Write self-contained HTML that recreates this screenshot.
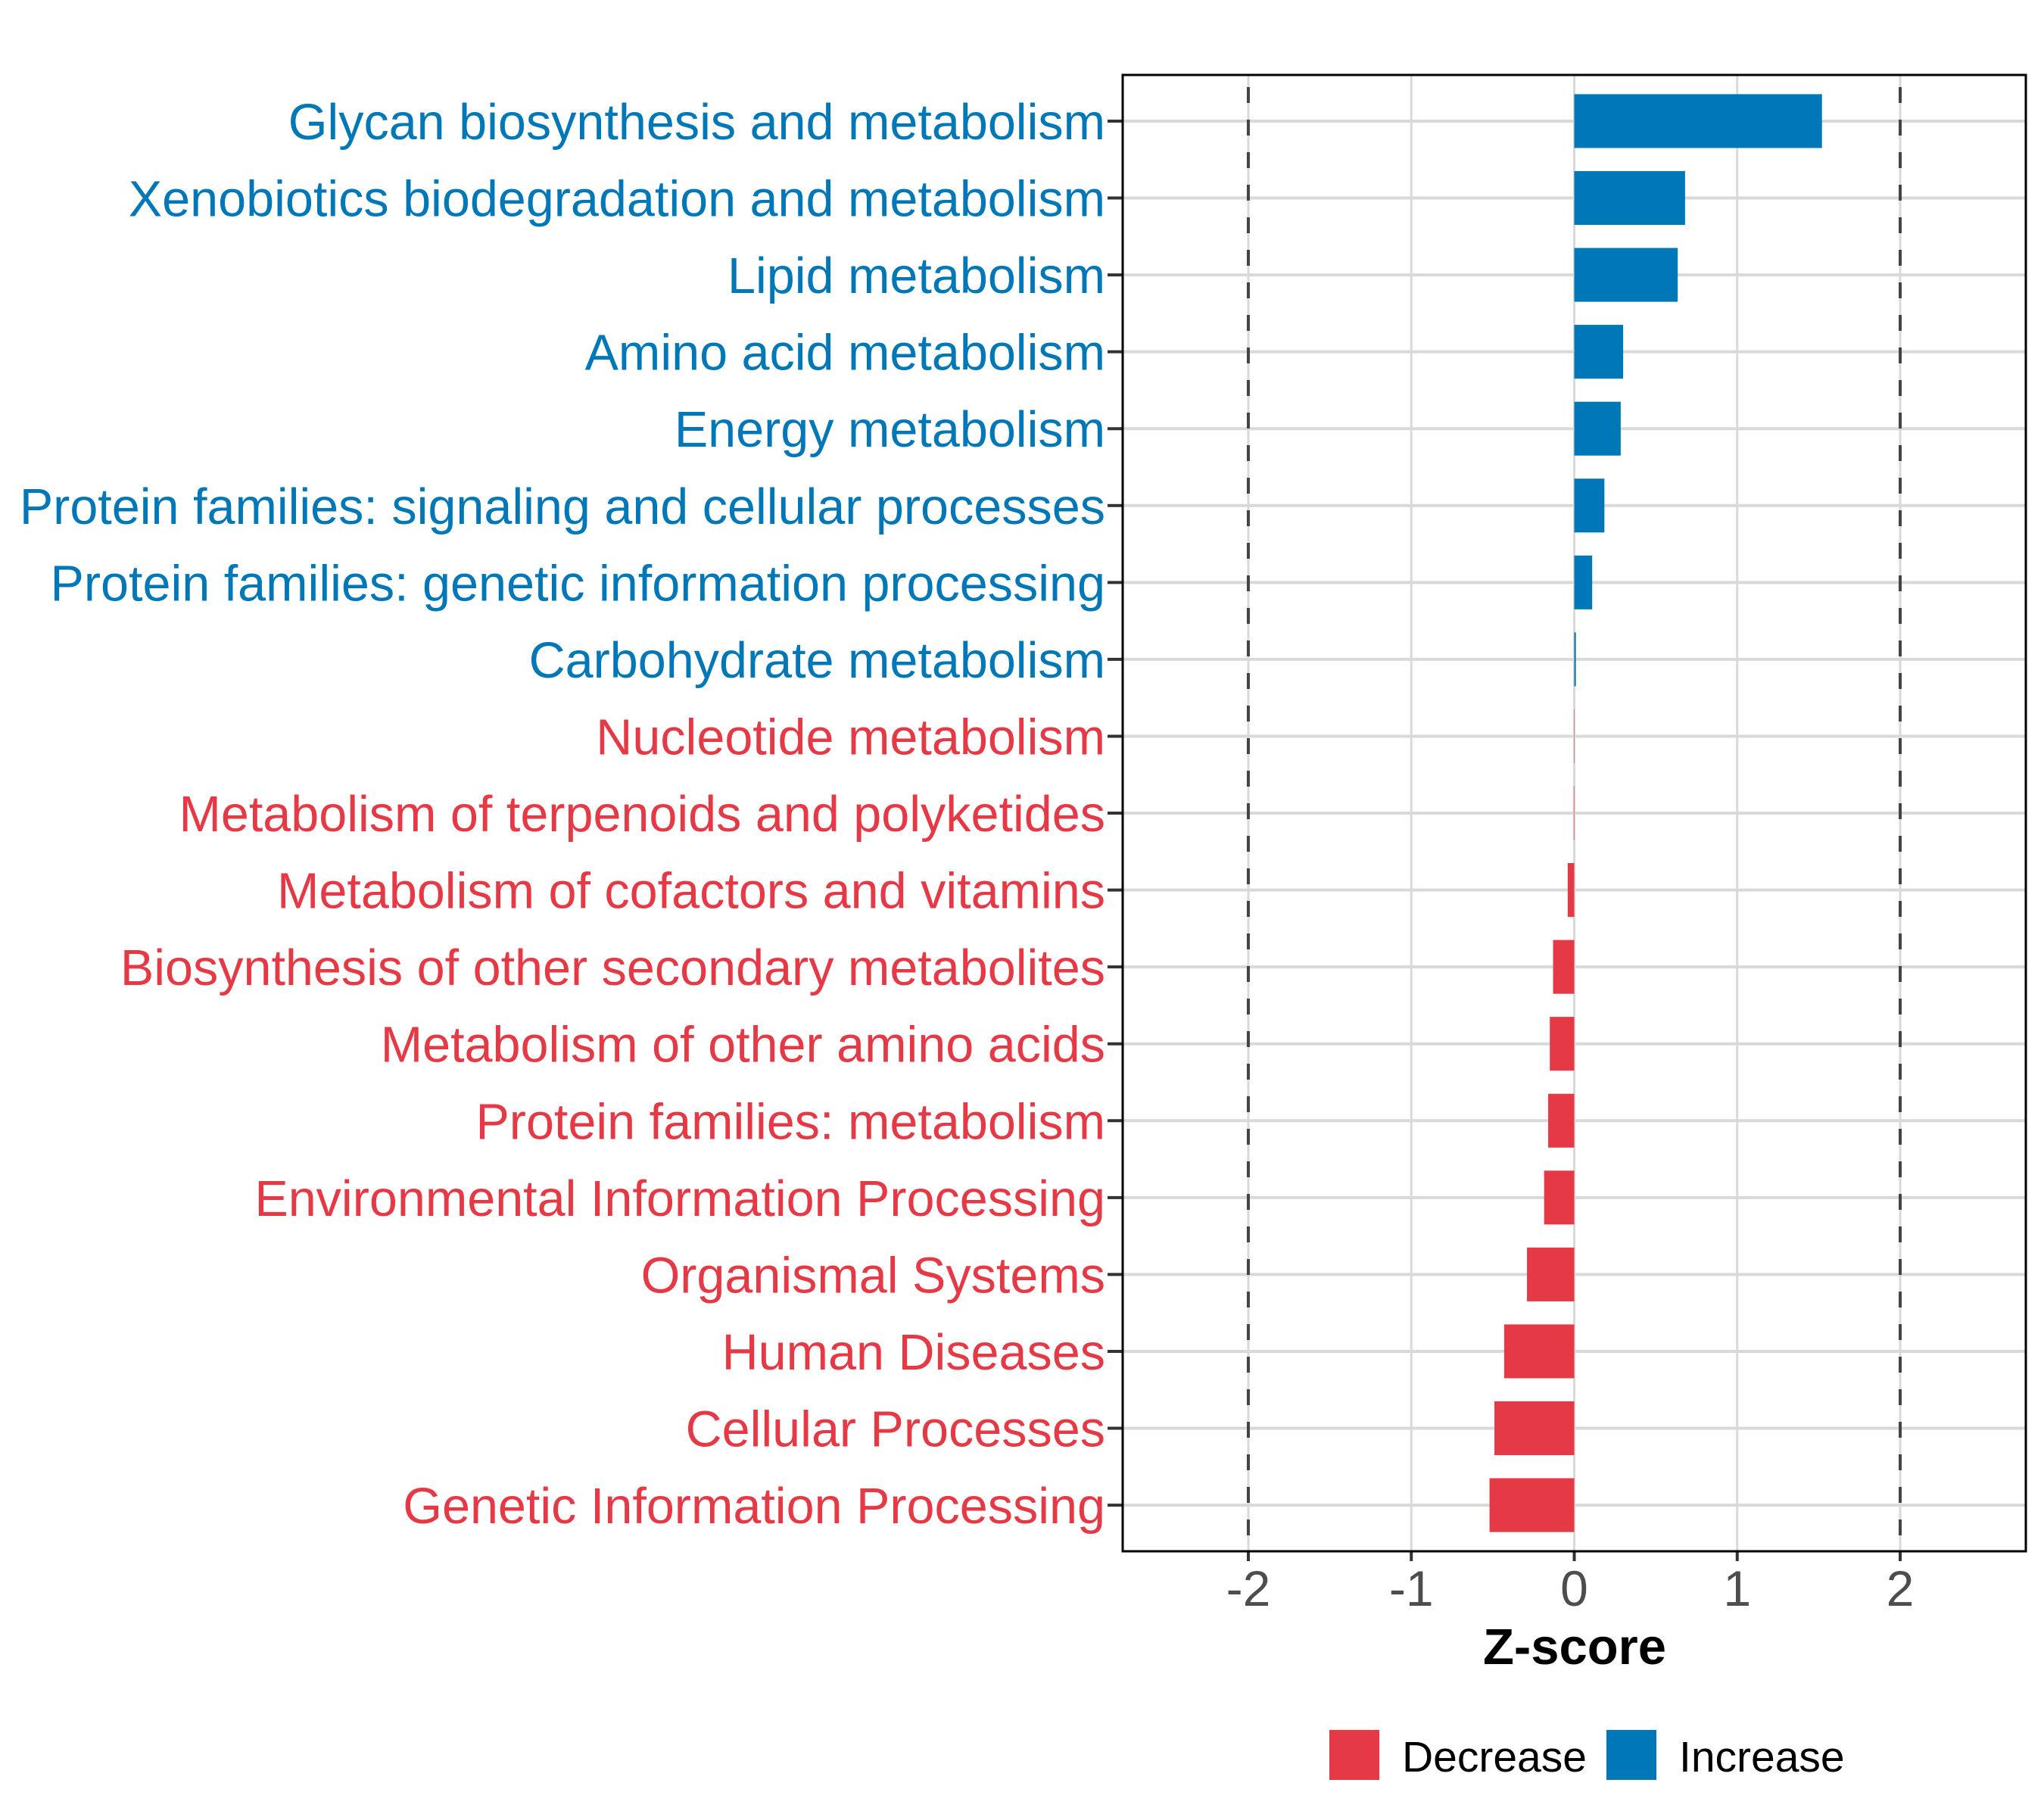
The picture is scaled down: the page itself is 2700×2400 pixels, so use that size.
<!DOCTYPE html>
<html><head><meta charset="utf-8"><style>
html,body{margin:0;padding:0;background:#fff;}
svg{display:block;font-family:"Liberation Sans",Arial,sans-serif;}
</style></head><body>
<svg id="chart" width="2700" height="2400" viewBox="0 0 2700 2400" xmlns="http://www.w3.org/2000/svg">
<rect x="0" y="0" width="2700" height="2400" fill="#fff"/>
<g id="grid"></g><g id="bars"></g><g id="ref"></g><g id="axes"></g><g id="labels"></g>
<text x="2080" y="2198" text-anchor="middle" font-size="67" font-weight="bold" fill="#000">Z-score</text>
<g>
<rect x="1756" y="2285" width="66" height="66" fill="#E63946"/>
<text x="1852" y="2340" font-size="57" fill="#000">Decrease</text>
<rect x="2122" y="2285" width="66" height="66" fill="#0077B6"/>
<text x="2218" y="2340" font-size="57" fill="#000">Increase</text>
</g>
</svg>
<script>
const categories = ["Glycan biosynthesis and metabolism","Xenobiotics biodegradation and metabolism","Lipid metabolism","Amino acid metabolism","Energy metabolism","Protein families: signaling and cellular processes","Protein families: genetic information processing","Carbohydrate metabolism","Nucleotide metabolism","Metabolism of terpenoids and polyketides","Metabolism of cofactors and vitamins","Biosynthesis of other secondary metabolites","Metabolism of other amino acids","Protein families: metabolism","Environmental Information Processing","Organismal Systems","Human Diseases","Cellular Processes","Genetic Information Processing"];
const zscores = [1.52,0.68,0.635,0.30,0.285,0.185,0.11,0.01,0.0,-0.003,-0.04,-0.13,-0.15,-0.16,-0.185,-0.29,-0.43,-0.49,-0.52];
const xTicks = [-2,-1,0,1,2];
const thresholds = [-2,2];

const NS="http://www.w3.org/2000/svg";
const P={left:1483,right:2676,top:99,bottom:2049};
const xMin=-2.771,xMax=2.771;
const x=v=>P.left+(v-xMin)/(xMax-xMin)*(P.right-P.left);
const step=(P.bottom-P.top)/(categories.length-1+1.2);
const y=i=>P.top+0.6*step+i*step;
const BLUE="#0077B6",RED="#E63946";
function mk(tag,attrs,parent){const e=document.createElementNS(NS,tag);for(const k in attrs)e.setAttribute(k,attrs[k]);parent.appendChild(e);return e;}
const grid=document.getElementById('grid'),bars=document.getElementById('bars'),ref=document.getElementById('ref'),axes=document.getElementById('axes'),labels=document.getElementById('labels');
xTicks.forEach(t=>{
  const l=mk('line',{x1:x(t),x2:x(t),y1:P.top,y2:P.bottom,stroke:'#d9d9d9','stroke-width':3},grid);
  
  
  const tk=mk('line',{x1:x(t),x2:x(t),y1:P.bottom,y2:P.bottom+13,stroke:'#333','stroke-width':4},axes);
  
  
  const tl=mk('text',{x:x(t),y:2121,'text-anchor':'middle','font-size':66,fill:'#4d4d4d'},axes);
  tl.textContent=String(t);
  
  
});
categories.forEach((c,i)=>{
  const yy=y(i);
  const g=mk('line',{x1:P.left,x2:P.right,y1:yy,y2:yy,stroke:'#d9d9d9','stroke-width':4},grid);
  
  
  const v=zscores[i];
  const col=v>0?BLUE:RED;
  const h=step*0.7;
  const b=mk('rect',{x:Math.min(x(0),x(v)),y:yy-h/2,width:Math.max(Math.abs(x(v)-x(0)),0.5),height:h,fill:col},bars);
  
  
  const tk=mk('line',{x1:P.left-20,x2:P.left,y1:yy,y2:yy,stroke:'#333','stroke-width':4},axes);
  
  
  const t=mk('text',{x:1460,y:yy+24,'text-anchor':'end','font-size':66.5,fill:col},labels);
  t.textContent=c;
  
  
});
thresholds.forEach(t=>{
  const l=mk('line',{x1:x(t),x2:x(t),y1:P.top,y2:P.bottom,stroke:'#444','stroke-width':4,'stroke-dasharray':'21 22','stroke-dashoffset':'-16'},ref);
  
  
});
const border=mk('rect',{x:P.left,y:P.top,width:P.right-P.left,height:P.bottom-P.top,fill:'none',stroke:'#000','stroke-width':3},axes);


</script>
</body></html>
